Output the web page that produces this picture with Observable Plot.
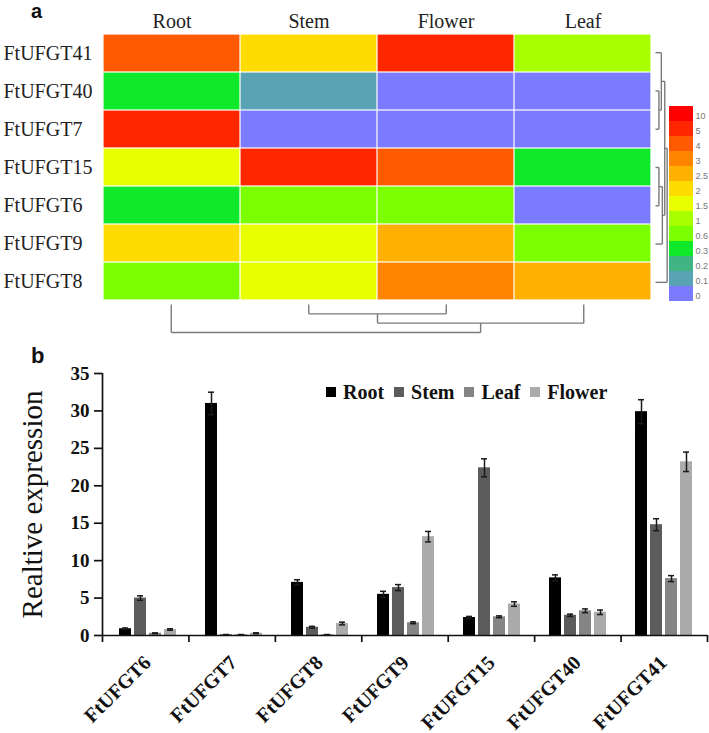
<!DOCTYPE html>
<html>
<head>
<meta charset="utf-8">
<script src="https://cdn.jsdelivr.net/npm/d3@7"></script>
<script src="https://cdn.jsdelivr.net/npm/@observablehq/plot@0.6"></script>
<style>
  html, body { margin: 0; padding: 0; background: #fff; }
  #root { position: relative; width: 709px; height: 733px; overflow: hidden; background: #fff; }
  #root > div, #root > svg, #root > figure { position: absolute; margin: 0; }
  .panel { font-family: "Liberation Sans", Arial, sans-serif; font-weight: bold; line-height: normal; color: #111; position: absolute; }
  #barLegend { position: absolute; display: flex; align-items: center; font-family: "Liberation Serif", serif; font-weight: bold; font-size: 20px; line-height: 22px; color: #111; white-space: nowrap; }
  #barLegend .sw { display: inline-block; width: 10px; height: 10px; margin-right: 7px; }
  #barLegend .lab { margin-right: 10px; }
</style>
</head>
<body>
<div id="root"></div>
<script>
// ---------- Heatmap (panel a) ----------
const heatRows = ["FtUFGT41", "FtUFGT40", "FtUFGT7", "FtUFGT15", "FtUFGT6", "FtUFGT9", "FtUFGT8"];
const heatCols = ["Root", "Stem", "Flower", "Leaf"];
const heatRoot   = ["4", "0.3", "5", "1.5", "0.3", "2", "0.6"];
const heatStem   = ["2", "0.1", "0", "5", "0.6", "1.5", "1.5"];
const heatFlower = ["5", "0", "0", "4", "0.6", "2.5", "3"];
const heatLeaf   = ["1", "0", "0", "0.3", "0", "0.6", "2.5"];

const levels = ["10", "5", "4", "3", "2.5", "2", "1.5", "1", "0.6", "0.3", "0.2", "0.1", "0"];
const levelColors = ["#ff0000", "#ff2600", "#ff5a00", "#ff8500", "#ffb000", "#ffdc00", "#e8ff00",
                     "#a8ff00", "#7cff00", "#10e82a", "#40b482", "#5aa3b4", "#7b7bff"];

// dendrogram merges: [a, b, height]; "mN" refers to the N-th merge
const rowMerges = [["FtUFGT40", "FtUFGT7", 1.0], ["FtUFGT15", "FtUFGT6", 1.0], ["m1", "FtUFGT9", 2.0],
                   ["FtUFGT41", "m0", 1.7], ["m3", "m2", 2.7], ["m4", "FtUFGT8", 3.4]];
const colMerges = [["Stem", "Flower", 1], ["m0", "Leaf", 2], ["Root", "m1", 3]];

// ---------- Bar chart (panel b) ----------
const genes = ["FtUFGT6", "FtUFGT7", "FtUFGT8", "FtUFGT9", "FtUFGT15", "FtUFGT40", "FtUFGT41"];
const tissues = ["Root", "Stem", "Leaf", "Flower"];
const rootVals   = [0.9, 31.0, 7.1, 5.5, 2.4, 7.7, 29.9];
const stemVals   = [5.0, 0.1, 1.1, 6.4, 22.4, 2.7, 14.8];
const leafVals   = [0.3, 0.1, 0.1, 1.7, 2.5, 3.3, 7.6];
const flowerVals = [0.8, 0.3, 1.6, 13.2, 4.2, 3.1, 23.2];
const rootErr    = [0.1, 1.5, 0.35, 0.4, 0.15, 0.4, 1.6];
const stemErr    = [0.3, 0.03, 0.12, 0.4, 1.2, 0.15, 0.8];
const leafErr    = [0.05, 0.03, 0.03, 0.12, 0.12, 0.25, 0.4];
const flowerErr  = [0.1, 0.06, 0.18, 0.7, 0.3, 0.3, 1.3];
const barColors = ["#000000", "#5c5c5c", "#858585", "#ababab"];
const yTicks = [0, 5, 10, 15, 20, 25, 30, 35];
const yLabel = "Realtive expression";

// ---------- build tables ----------
const heatCols2Vals = {Root: heatRoot, Stem: heatStem, Flower: heatFlower, Leaf: heatLeaf};
const heatData = [];
heatRows.forEach((r, i) => heatCols.forEach(c => heatData.push({row: r, col: c, level: heatCols2Vals[c][i]})));

const barVals = {Root: rootVals, Stem: stemVals, Leaf: leafVals, Flower: flowerVals};
const barErrs = {Root: rootErr, Stem: stemErr, Leaf: leafErr, Flower: flowerErr};
const barData = [];
genes.forEach((g, i) => tissues.forEach(t => barData.push({gene: g, tissue: t, value: barVals[t][i], err: barErrs[t][i]})));

function dendro(leaves, merges) {
  const pos = {}, h = {};
  leaves.forEach((l, i) => { pos[l] = i + 0.5; h[l] = 0; });
  const segs = [];
  merges.forEach(([a, b, ht], k) => {
    segs.push({p1: pos[a], h1: h[a], p2: pos[a], h2: ht});
    segs.push({p1: pos[b], h1: h[b], p2: pos[b], h2: ht});
    segs.push({p1: pos[a], h1: ht, p2: pos[b], h2: ht});
    pos["m" + k] = (pos[a] + pos[b]) / 2; h["m" + k] = ht;
  });
  return segs;
}

const root = document.getElementById("root");
function place(el, left, top) { el.style.position = "absolute"; el.style.left = left + "px"; el.style.top = top + "px"; root.appendChild(el); }

const colorScale = {type: "ordinal", domain: levels, range: levelColors};

// Heatmap
const heat = Plot.plot({
  width: 709, height: 301, marginTop: 33, marginBottom: 0, marginLeft: 102, marginRight: 57,
  x: {domain: heatCols, padding: 0},
  y: {domain: heatRows, padding: 0},
  color: colorScale,
  style: {fontFamily: "'Liberation Serif', 'Times New Roman', serif", fontSize: "20px", color: "#222", background: "transparent", overflow: "visible"},
  marks: [
    Plot.cell(heatData, {x: "col", y: "row", fill: "level", inset: 0.6}),
    Plot.axisX({anchor: "top", tickSize: 0, tickPadding: 6, label: null, fontSize: 20}),
    Plot.axisY({anchor: "left", tickSize: 0, tickPadding: 0, textAnchor: "start", dx: -99, label: null, fontSize: 20})
  ]
});
place(heat, 0, 0);

// Column dendrogram
const colD = Plot.plot({
  width: 709, height: 35, marginTop: 3, marginBottom: 4, marginLeft: 102, marginRight: 57,
  x: {domain: [0, heatCols.length], axis: null},
  y: {domain: [0, 3], reverse: true, axis: null},
  style: {background: "transparent"},
  marks: [Plot.link(dendro(heatCols, colMerges), {x1: "p1", y1: "h1", x2: "p2", y2: "h2", stroke: "#7a7a7a", strokeWidth: 1.4})]
});
place(colD, 0, 301);

// Row dendrogram
const rowD = Plot.plot({
  width: 20, height: 335, marginTop: 33, marginBottom: 34, marginLeft: 3, marginRight: 5,
  x: {domain: [0, 3.5], axis: null},
  y: {domain: [0, heatRows.length], reverse: true, axis: null},
  style: {background: "transparent"},
  marks: [Plot.link(dendro(heatRows, rowMerges), {x1: "h1", y1: "p1", x2: "h2", y2: "p2", stroke: "#7a7a7a", strokeWidth: 1.4})]
});
place(rowD, 652, 0);

// Color legend
const leg = Plot.plot({
  width: 40, height: 197, marginTop: 0, marginBottom: 0, marginLeft: 0, marginRight: 16,
  y: {domain: levels, padding: 0},
  color: colorScale,
  style: {fontFamily: "'Liberation Sans', Arial, sans-serif", fontSize: "9px", background: "transparent", overflow: "visible"},
  marks: [
    Plot.cell(levels, {y: d => d, fill: d => d}),
    Plot.axisY({anchor: "right", tickSize: 0, tickPadding: 2, dy: 2, label: null, fill: "#777", fontSize: 9})
  ]
});
place(leg, 669, 105);

// Bars
const bars = Plot.plot({
  width: 709, height: 398, marginTop: 38, marginBottom: 98, marginLeft: 102, marginRight: 2,
  fx: {domain: genes, padding: 0, label: null},
  x: {domain: tissues, paddingInner: 0.22, paddingOuter: 0.9, axis: null},
  y: {domain: [0, 35], axis: null},
  color: {domain: tissues, range: barColors},
  style: {fontFamily: "'Liberation Serif', 'Times New Roman', serif", fontSize: "20px", fontWeight: "bold", color: "#111", background: "transparent", overflow: "visible"},
  marks: [
    Plot.barY(barData, {fx: "gene", x: "tissue", y: "value", fill: "tissue"}),
    Plot.ruleX(barData, {fx: "gene", x: "tissue", y1: d => d.value - d.err, y2: d => d.value + d.err, stroke: "#1a1a1a", strokeWidth: 1.5}),
    Plot.tickY(barData, {fx: "gene", x: "tissue", y: d => d.value + d.err, insetLeft: 3, insetRight: 3, stroke: "#1a1a1a", strokeWidth: 1.5}),
    Plot.tickY(barData, {fx: "gene", x: "tissue", y: d => d.value - d.err, insetLeft: 3, insetRight: 3, stroke: "#1a1a1a", strokeWidth: 1.5}),
    Plot.axisFx({anchor: "bottom", tickSize: 0, tickPadding: 24, tickRotate: -45, label: null, fontSize: 20})
  ]
});
place(bars, 0, 335);

// Axes overlay
const axes = Plot.plot({
  width: 709, height: 398, marginTop: 38, marginBottom: 98, marginLeft: 102, marginRight: 2,
  x: {domain: [0, genes.length]},
  y: {domain: [0, 35]},
  style: {fontFamily: "'Liberation Serif', 'Times New Roman', serif", fontSize: "19px", fontWeight: "bold", color: "#111", background: "transparent", overflow: "visible"},
  marks: [
    Plot.ruleX([0], {y1: 0, y2: 35, stroke: "#111", strokeWidth: 1.7}),
    Plot.ruleY([0], {x1: 0, x2: genes.length, stroke: "#111", strokeWidth: 1.7}),
    Plot.axisY({ticks: yTicks, tickSize: 8, tickPadding: 5, label: null, strokeWidth: 1.7, fontSize: 19}),
    Plot.axisX({ticks: d3.range(0, genes.length + 1), tickSize: 7, tickFormat: () => "", label: null, strokeWidth: 1.7}),
    Plot.text([yLabel], {text: d => d, frameAnchor: "left", textAnchor: "middle", rotate: -90, dx: -70, fontSize: 29, fontWeight: "normal", fill: "#111"})
  ]
});
axes.style.pointerEvents = "none";
place(axes, 0, 335);

// Bar legend (HTML)
const bl = document.createElement("div");
bl.id = "barLegend";
tissues.forEach((t, i) => {
  const sw = document.createElement("span"); sw.className = "sw"; sw.style.background = barColors[i];
  const lab = document.createElement("span"); lab.className = "lab"; lab.textContent = t;
  bl.appendChild(sw); bl.appendChild(lab);
});
place(bl, 326, 381);

// Panel labels
const pa = document.createElement("div"); pa.className = "panel"; pa.style.fontSize = "20px"; pa.textContent = "a"; place(pa, 31, 0);
const pb = document.createElement("div"); pb.className = "panel"; pb.style.fontSize = "22px"; pb.textContent = "b"; place(pb, 31, 343);
</script>
</body>
</html>
